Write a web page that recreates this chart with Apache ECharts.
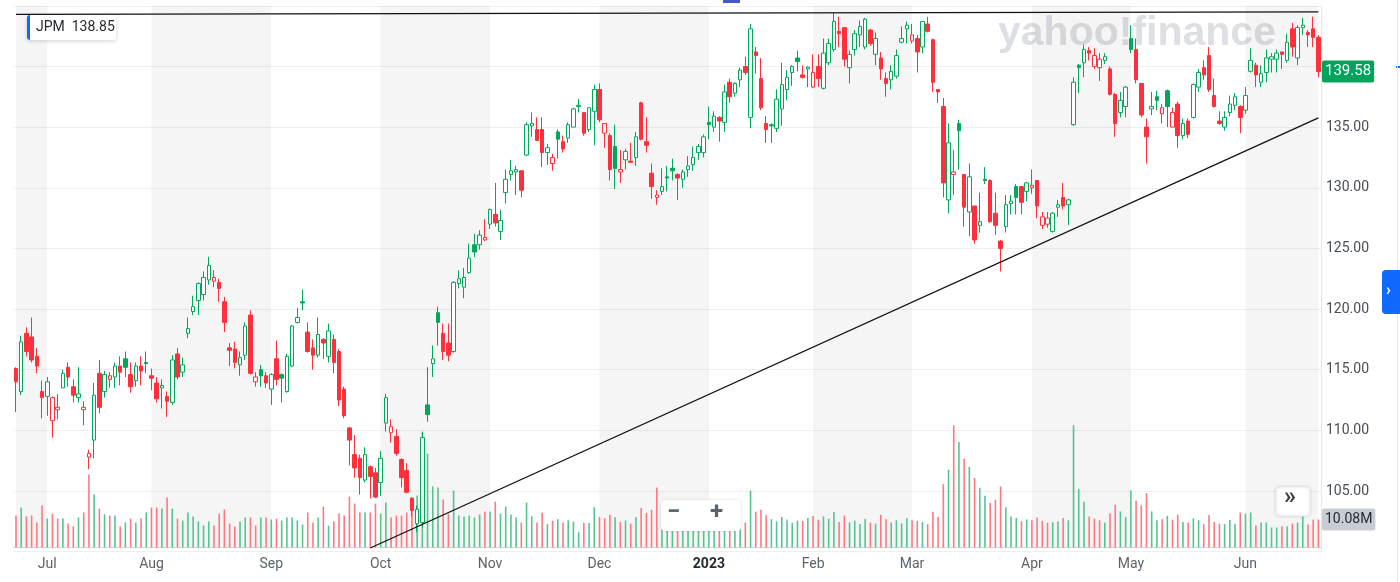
<!DOCTYPE html>
<html>
<head>
<meta charset="utf-8">
<script src="https://cdn.jsdelivr.net/npm/echarts/dist/echarts.min.js"></script>
<style>
html,body{margin:0;padding:0;background:#fff;}
#chart{width:1400px;height:582px;}
</style>
</head>
<body>
<div id="chart"></div>
<script>
// ---------------- DATA ----------------
const dates = [
'2022-06-23','2022-06-24','2022-06-27','2022-06-28','2022-06-29','2022-06-30',
'2022-07-01','2022-07-05','2022-07-06','2022-07-07','2022-07-08','2022-07-11','2022-07-12','2022-07-13','2022-07-14','2022-07-15','2022-07-18','2022-07-19','2022-07-20','2022-07-21','2022-07-22','2022-07-25','2022-07-26','2022-07-27','2022-07-28','2022-07-29',
'2022-08-01','2022-08-02','2022-08-03','2022-08-04','2022-08-05','2022-08-08','2022-08-09','2022-08-10','2022-08-11','2022-08-12','2022-08-15','2022-08-16','2022-08-17','2022-08-18','2022-08-19','2022-08-22','2022-08-23','2022-08-24','2022-08-25','2022-08-26','2022-08-29','2022-08-30','2022-08-31',
'2022-09-01','2022-09-02','2022-09-06','2022-09-07','2022-09-08','2022-09-09','2022-09-12','2022-09-13','2022-09-14','2022-09-15','2022-09-16','2022-09-19','2022-09-20','2022-09-21','2022-09-22','2022-09-23','2022-09-26','2022-09-27','2022-09-28','2022-09-29','2022-09-30',
'2022-10-03','2022-10-04','2022-10-05','2022-10-06','2022-10-07','2022-10-10','2022-10-11','2022-10-12','2022-10-13','2022-10-14','2022-10-17','2022-10-18','2022-10-19','2022-10-20','2022-10-21','2022-10-24','2022-10-25','2022-10-26','2022-10-27','2022-10-28','2022-10-31',
'2022-11-01','2022-11-02','2022-11-03','2022-11-04','2022-11-07','2022-11-08','2022-11-09','2022-11-10','2022-11-11','2022-11-14','2022-11-15','2022-11-16','2022-11-17','2022-11-18','2022-11-21','2022-11-22','2022-11-23','2022-11-25','2022-11-28','2022-11-29','2022-11-30',
'2022-12-01','2022-12-02','2022-12-05','2022-12-06','2022-12-07','2022-12-08','2022-12-09','2022-12-12','2022-12-13','2022-12-14','2022-12-15','2022-12-16','2022-12-19','2022-12-20','2022-12-21','2022-12-22','2022-12-23','2022-12-27','2022-12-28','2022-12-29','2022-12-30',
'2023-01-03','2023-01-04','2023-01-05','2023-01-06','2023-01-09','2023-01-10','2023-01-11','2023-01-12','2023-01-13','2023-01-17','2023-01-18','2023-01-19','2023-01-20','2023-01-23','2023-01-24','2023-01-25','2023-01-26','2023-01-27','2023-01-30','2023-01-31',
'2023-02-01','2023-02-02','2023-02-03','2023-02-06','2023-02-07','2023-02-08','2023-02-09','2023-02-10','2023-02-13','2023-02-14','2023-02-15','2023-02-16','2023-02-17','2023-02-21','2023-02-22','2023-02-23','2023-02-24','2023-02-27','2023-02-28',
'2023-03-01','2023-03-02','2023-03-03','2023-03-06','2023-03-07','2023-03-08','2023-03-09','2023-03-10','2023-03-13','2023-03-14','2023-03-15','2023-03-16','2023-03-17','2023-03-20','2023-03-21','2023-03-22','2023-03-23','2023-03-24','2023-03-27','2023-03-28','2023-03-29','2023-03-30','2023-03-31',
'2023-04-03','2023-04-04','2023-04-05','2023-04-06','2023-04-10','2023-04-11','2023-04-12','2023-04-13','2023-04-14','2023-04-17','2023-04-18','2023-04-19','2023-04-20','2023-04-21','2023-04-24','2023-04-25','2023-04-26','2023-04-27','2023-04-28',
'2023-05-01','2023-05-02','2023-05-03','2023-05-04','2023-05-05','2023-05-08','2023-05-09','2023-05-10','2023-05-11','2023-05-12','2023-05-15','2023-05-16','2023-05-17','2023-05-18','2023-05-19','2023-05-22','2023-05-23','2023-05-24','2023-05-25','2023-05-26','2023-05-30','2023-05-31',
'2023-06-01','2023-06-02','2023-06-05','2023-06-06','2023-06-07','2023-06-08','2023-06-09','2023-06-12','2023-06-13','2023-06-14','2023-06-15','2023-06-16','2023-06-20','2023-06-21','2023-06-22'
];

const opens = [
115.1,113.2,118.0,117.7,116.1,113.2,112.8,110.8,111.7,113.5,
115.2,113.6,112.7,111.7,107.8,109.2,114.7,113.2,114.2,114.4,
115.3,115.9,114.6,114.1,115.3,115.6,114.5,113.9,113.5,112.8,
112.3,116.3,114.8,118.0,119.8,120.7,121.2,122.4,122.3,122.2,
120.6,116.8,116.7,115.4,116.2,119.5,114.0,115.0,114.5,113.4,
115.9,114.6,113.2,115.3,118.9,120.6,118.1,116.8,116.2,117.5,
116.1,117.5,116.5,113.4,110.2,108.0,107.7,105.9,107.0,106.5,
105.7,110.6,109.8,109.5,107.6,106.7,104.4,102.3,102.4,112.1,
115.5,119.7,118.0,117.2,116.5,122.1,121.8,123.0,125.3,125.3,
125.7,127.0,127.8,126.4,129.6,131.1,131.3,131.4,132.7,135.1,
134.8,134.8,132.9,132.0,134.6,133.8,134.1,135.0,136.7,136.2,
134.8,136.3,138.1,134.5,134.3,133.4,131.3,132.3,132.2,132.5,
137.0,133.8,131.2,129.2,129.7,130.9,131.6,131.1,130.7,131.5,
131.9,132.9,132.9,135.4,135.0,135.8,135.4,138.7,137.8,138.9,
140.0,135.8,141.2,139.0,135.3,135.2,134.9,136.5,138.1,139.5,
140.7,139.3,139.8,138.3,140.0,138.2,140.3,141.4,142.9,143.2,
139.9,141.4,142.6,141.6,143.0,141.0,140.7,139.0,138.9,139.2,
142.0,143.1,142.1,142.3,141.6,143.5,142.2,138.1,136.7,129.0,
131.1,135.3,131.1,128.0,128.5,126.9,130.7,130.6,127.9,125.6,
126.8,128.7,130.1,130.1,129.7,130.0,130.6,126.9,127.0,126.4,
128.4,129.2,128.6,135.2,140.1,140.3,141.3,140.0,139.9,140.5,
139.8,137.7,136.2,136.7,142.3,141.4,138.6,135.0,136.5,137.5,
136.1,138.0,135.0,136.9,134.3,135.5,135.8,138.3,139.9,140.9,
137.6,135.5,135.0,136.2,136.8,136.7,136.4,139.6,140.1,138.7,
139.5,140.6,140.6,141.2,140.5,143.1,140.7,143.2,142.8,143.1,
142.4
];

const closes = [
114.0,117.3,116.5,115.8,115.3,112.7,114.0,112.7,111.9,114.7,
114.4,112.9,113.0,111.9,108.1,112.9,111.9,114.6,114.5,115.3,
114.8,115.2,113.6,115.3,114.9,115.5,114.3,112.6,113.7,112.4,
115.8,114.4,115.4,118.4,120.2,122.1,122.6,123.6,122.6,121.7,
118.9,116.6,115.6,116.0,118.6,114.7,114.4,114.5,113.9,114.6,
114.2,114.3,116.1,118.6,119.3,120.5,116.5,116.2,117.9,117.2,
118.2,115.6,112.5,111.2,109.2,106.9,106.1,108.0,106.2,104.5,
107.7,112.7,110.3,108.1,106.1,104.9,103.4,103.5,109.4,111.3,
115.9,118.9,116.5,116.2,122.2,122.5,122.6,124.2,124.7,126.1,
125.9,128.2,127.1,127.3,130.7,131.4,131.5,129.8,135.2,135.3,
133.9,132.9,133.3,132.5,134.0,133.2,135.2,136.5,136.8,134.5,
136.6,138.1,135.6,135.3,131.5,131.6,131.5,133.0,132.1,134.2,
134.0,133.5,130.1,129.4,130.1,130.8,131.4,130.8,131.3,131.8,
132.5,133.4,134.2,135.2,135.9,135.5,137.9,137.5,138.6,139.7,
139.5,143.1,140.9,136.6,134.8,135.1,137.3,138.5,139.1,140.0,
140.4,139.1,139.95,139.5,139.0,141.1,141.9,143.7,142.7,140.6,
141.0,142.7,143.3,143.9,141.9,142.3,139.8,138.6,139.6,140.9,
142.3,143.4,142.6,141.2,143.7,142.9,138.7,137.9,130.4,133.7,
131.3,134.7,128.4,130.9,125.7,127.2,130.6,127.2,126.9,125.0,
128.6,128.9,129.2,128.8,130.4,130.2,128.5,127.6,127.5,127.9,
128.6,128.5,129.0,138.7,139.9,141.4,141.1,140.9,140.6,140.8,
137.7,135.3,137.2,138.3,141.4,138.9,136.0,134.2,136.7,137.2,
136.6,136.7,136.2,134.3,135.3,134.4,138.5,139.5,139.3,138.1,
136.7,135.3,135.8,136.9,137.5,135.8,137.6,140.5,139.3,139.4,
140.7,140.8,141.1,141.0,142.0,141.6,143.2,143.4,142.6,142.4,
139.58
];

const lows = [
111.5,112.9,116.1,115.6,114.7,111.0,111.2,109.4,110.9,113.5,
113.6,112.3,112.3,110.4,106.8,107.7,111.4,112.7,113.5,113.5,
113.7,114.4,113.1,113.6,113.7,114.7,113.3,112.3,111.8,111.1,
112.1,114.2,114.4,117.6,119.5,119.5,120.7,122.0,121.8,120.6,
118.1,115.3,115.1,114.5,115.8,114.6,113.6,113.6,113.5,112.1,
113.7,112.3,113.1,115.2,118.8,119.9,116.4,115.0,116.0,115.9,
115.6,114.7,112.0,111.0,107.1,106.1,104.7,105.7,104.4,104.4,
104.6,109.9,109.0,107.9,105.3,104.8,102.9,101.6,102.0,110.7,
114.4,117.0,115.8,115.7,116.4,121.7,120.9,122.9,124.3,124.9,
125.6,126.6,126.8,125.7,128.7,130.6,129.4,129.2,132.6,134.2,
133.9,131.7,131.9,131.4,132.4,132.9,133.7,135.0,136.2,134.3,
134.6,133.5,135.4,133.3,130.6,129.9,130.4,131.5,132.1,131.8,
133.9,132.9,129.1,128.6,129.4,129.7,130.6,129.0,130.0,130.9,
131.4,132.3,132.5,134.0,134.6,133.8,134.6,137.0,137.5,138.3,
139.3,134.9,139.4,136.4,133.7,133.7,134.6,135.1,137.2,138.4,
139.6,139.0,138.3,138.2,138.3,138.1,140.1,141.2,141.6,140.0,
138.6,140.9,141.6,141.4,141.7,140.1,138.9,137.5,138.1,139.0,
141.9,141.9,141.9,139.5,141.1,142.8,137.9,137.0,129.2,127.9,
129.4,131.5,126.8,126.0,125.4,126.3,130.3,127.1,126.1,123.1,
126.3,127.8,127.8,127.8,128.9,129.5,127.5,126.6,126.7,126.3,
127.6,128.2,126.9,135.1,137.8,139.1,140.5,139.8,138.8,140.2,
137.6,134.2,135.8,135.8,141.1,138.6,135.8,132.0,136.0,136.4,
135.3,135.0,135.0,133.3,134.0,134.1,135.7,137.9,138.9,137.9,
136.6,135.2,134.7,135.9,136.4,134.5,136.1,139.5,138.3,138.3,
138.7,139.5,139.5,139.8,140.3,140.8,140.1,142.6,141.6,141.6,
139.1
];

const highs = [
115.2,117.8,118.5,119.3,116.8,114.1,114.4,112.8,113.0,115.0,
115.6,114.2,115.2,112.4,108.4,113.9,115.8,114.9,114.8,115.6,
116.1,116.5,115.6,115.6,116.1,116.5,115.1,114.4,114.2,113.2,
116.2,116.8,116.0,119.3,121.1,122.2,123.1,124.3,123.2,122.5,
121.0,117.2,117.3,116.5,118.9,119.9,114.8,115.4,114.8,114.7,
117.4,114.7,116.3,118.7,120.1,121.6,118.9,117.5,119.3,117.6,
118.8,117.9,116.7,113.6,110.3,109.6,108.0,108.6,107.1,106.9,
108.3,113.0,110.9,110.1,107.7,107.3,104.5,103.8,109.9,115.2,
117.0,120.2,118.8,118.8,122.3,123.2,123.4,125.4,126.2,126.5,
127.4,128.3,130.4,128.2,131.5,132.3,131.8,131.4,135.4,136.2,
135.8,135.8,133.6,132.8,134.8,134.3,135.4,136.6,137.3,136.2,
136.6,138.5,138.6,135.3,134.5,135.2,133.1,133.2,133.7,134.6,
137.1,135.8,132.0,129.8,131.6,131.8,132.4,131.2,131.5,132.6,
133.4,133.6,134.4,136.7,136.3,135.9,138.5,139.0,138.7,139.9,
140.8,143.5,141.6,140.7,135.9,135.3,138.1,140.3,139.7,140.1,
141.3,140.1,140.0,141.0,141.0,142.3,142.3,144.4,144.1,143.2,
141.3,143.0,143.8,144.0,143.1,142.8,141.2,139.5,140.1,141.4,
143.3,143.7,143.5,142.6,143.7,144.1,142.3,138.1,137.4,135.3,
133.1,135.6,131.1,132.0,128.5,129.6,131.7,130.7,129.6,125.7,
129.4,129.4,130.3,130.1,130.5,131.5,130.6,128.0,128.0,128.0,
129.0,130.4,129.1,139.1,140.2,141.8,141.6,141.5,141.1,141.1,
140.0,137.8,137.9,138.4,143.4,142.3,138.6,135.7,137.9,138.0,
136.9,138.1,136.6,137.1,135.7,135.7,138.6,139.8,140.5,141.6,
139.0,136.3,136.3,137.6,137.8,136.8,138.3,141.5,140.3,140.1,
141.4,141.1,141.4,141.2,142.7,143.6,143.4,144.0,143.0,144.1,
142.6
];

// volume in millions of shares
const volumes = [
11.5,14.4,11.2,11.5,9.0,15.1,10.4,12.2,10.4,10.4,
8.6,7.6,10.8,12.6,26.3,19.1,14.0,11.9,11.5,11.5,
7.6,9.0,10.4,9.0,10.4,12.6,14.4,14.4,14.0,18.0,
14.0,10.4,9.7,12.6,11.2,9.4,7.9,9.4,7.9,12.2,
13.7,8.6,7.6,9.4,10.8,10.8,7.9,10.8,10.8,10.1,
10.4,9.7,10.8,10.8,9.7,8.3,12.6,9.0,10.8,14.7,
7.9,9.4,12.2,11.5,18.3,15.8,12.6,12.6,12.6,15.8,
12.2,16.2,10.8,11.5,11.5,12.6,15.8,18.7,41.4,33.8,
22.0,21.6,17.3,12.2,20.5,11.5,11.2,11.5,10.8,11.9,
13.0,13.0,16.5,12.2,14.7,11.9,10.8,9.0,16.2,11.2,
9.0,12.5,8.4,9.6,10.2,9.0,9.8,9.3,5.5,8.9,
8.8,14.5,11.0,10.5,11.8,10.9,9.2,9.7,8.6,11.0,
14.2,12.4,13.6,21.6,12.2,9.8,8.4,9.5,6.6,6.8,
6.2,7.4,7.0,10.4,11.5,10.0,11.8,10.7,9.3,8.6,
9.0,20.5,12.9,13.6,11.6,10.2,9.4,11.0,10.1,8.9,
9.7,9.5,10.6,11.3,10.0,11.2,10.4,12.8,9.2,11.5,
9.0,9.7,8.5,10.3,9.0,8.6,11.8,10.2,9.0,9.8,
8.7,10.5,9.8,9.6,9.2,8.4,12.9,11.0,22.8,28.0,
44.0,38.0,32.0,29.0,25.0,21.5,18.6,16.0,17.2,22.0,
14.5,11.2,10.6,9.5,10.1,9.8,10.8,9.6,8.9,9.1,
9.4,10.6,9.8,44.0,21.0,16.5,11.2,10.4,9.8,8.9,
12.3,15.4,13.0,11.0,20.5,16.8,15.2,19.6,13.0,9.8,
10.2,11.4,10.0,11.8,9.2,9.0,10.5,9.8,8.4,11.6,
9.2,8.6,8.4,9.9,8.5,12.6,12.2,12.6,7.9,9.0,
9.0,7.2,7.2,7.6,7.6,8.6,9.0,11.5,8.3,10.1,
10.08
];

// month tick labels (one per month start after the first partial month)
const xTickLabels = ['Jul','Aug','Sep','Oct','Nov','Dec','2023','Feb','Mar','Apr','May','Jun'];
// drawn annotation lines: [date, price]
const supportLine = [['2022-09-29', 100.3], ['2023-06-22', 135.76]];
const resistanceLine = [['2022-06-23', 144.3], ['2023-06-22', 144.5]];
const ticker = 'JPM';
const headerPrice = '138.85';
const yMin = 100, yMax = 145, yStep = 5;
const bandFloor = 100.33;

// ---------------- BUILD ----------------
const GREEN = '#00a85a', RED = '#ff2f3b';
const GREEN_V = '#55c491', RED_V = '#ff7880';
const HOLLOW = '#ffffff';

const candleData = dates.map((d, i) => {
  const o = opens[i], c = closes[i];
  const prev = i === 0 ? o : closes[i - 1];
  const up = c >= prev;
  const tone = up ? GREEN : RED;
  const fill = c > o ? HOLLOW : tone;
  return {
    value: [o, c, lows[i], highs[i]],
    itemStyle: { color: fill, color0: fill, borderColor: tone, borderColor0: tone, borderWidth: 1 }
  };
});
const volData = dates.map((d, i) => {
  const prev = i === 0 ? opens[i] : closes[i - 1];
  return { value: volumes[i], itemStyle: { color: closes[i] >= prev ? GREEN_V : RED_V } };
});

const monthStarts = [];
dates.forEach((d, i) => { if (i === 0 || d.slice(0, 7) !== dates[i - 1].slice(0, 7)) monthStarts.push(i); });
const labelMap = {};
monthStarts.slice(1).forEach((idx, k) => { labelMap[idx] = xTickLabels[k]; });
const bandAreas = [];
for (let m = 0; m < monthStarts.length; m += 2) {
  const s = monthStarts[m];
  const e = m + 1 < monthStarts.length ? monthStarts[m + 1] : dates.length - 1;
  bandAreas.push([{ xAxis: dates[s], yAxis: bandFloor }, { xAxis: dates[e], yAxis: yMax }]);
}
const lastClose = closes[closes.length - 1];
const lastVol = volumes[volumes.length - 1];

const FONT = 'Roboto, "Liberation Sans", sans-serif';
const chart = echarts.init(document.getElementById('chart'));
const gridL = 13.4, gridR = 79;
const CLEAR = 'rgba(0,0,0,0)';

chart.setOption({
  animation: false,
  backgroundColor: '#ffffff',
  textStyle: { fontFamily: FONT },
  grid: [
    { left: gridL, right: gridR, top: 5.8, height: 545.85 },
    { left: gridL, right: gridR, top: 397.5, height: 150 }
  ],
  xAxis: [
    { type: 'category', gridIndex: 0, data: dates, show: false },
    {
      type: 'category', gridIndex: 1, data: dates,
      axisLine: { lineStyle: { color: '#d3d7dc', width: 1 } },
      axisTick: { alignWithLabel: true, length: 5, interval: (i) => labelMap[i] !== undefined, lineStyle: { color: '#c9cdd2' } },
      axisLabel: {
        interval: (i) => labelMap[i] !== undefined,
        formatter: (v, i) => { const t = labelMap[i]; if (!t) return ''; return t === '2023' ? '{y|2023}' : t; },
        color: '#5b636a', fontSize: 14, margin: 10, fontFamily: FONT,
        rich: { y: { fontWeight: 'bold', color: '#232a31', fontSize: 14, fontFamily: FONT } }
      },
      splitLine: { show: false }
    }
  ],
  yAxis: [
    {
      type: 'value', gridIndex: 0, position: 'right', min: yMin, max: yMax, interval: yStep,
      axisLine: { show: true, lineStyle: { color: '#e3e6ea' } },
      axisTick: { show: false },
      splitLine: { show: true, lineStyle: { color: '#eeeff1', width: 1 } },
      axisLabel: {
        margin: 5, color: '#464e56', fontSize: 14, fontFamily: FONT,
        formatter: (v) => (v >= 105 && v <= 135) ? v.toFixed(2) : ''
      }
    },
    { type: 'value', gridIndex: 1, min: 0, max: 54, show: false, splitLine: { show: false } }
  ],
  series: [
    {
      name: 'bands', type: 'line', xAxisIndex: 0, yAxisIndex: 0, data: [], z: 0, silent: true,
      markArea: { silent: true, itemStyle: { color: 'rgba(0,0,0,0.04)' }, data: bandAreas }
    },
    {
      name: 'volume', type: 'bar', xAxisIndex: 1, yAxisIndex: 1, data: volData, barWidth: 1.6, z: 3, silent: true,
      markLine: {
        silent: true, symbol: ['none', 'none'], z: 20,
        lineStyle: { color: CLEAR, width: 1, type: 'solid' },
        emphasis: { disabled: true },
        data: [{ yAxis: lastVol }],
        label: {
          show: true, position: 'end', distance: 1,
          formatter: lastVol.toFixed(2) + 'M',
          backgroundColor: '#c9cdd3', color: '#232a31', fontSize: 14, fontFamily: FONT,
          padding: [3, 3, 3, 3], lineHeight: 16, borderRadius: 2
        }
      }
    },
    {
      name: ticker, type: 'candlestick', xAxisIndex: 0, yAxisIndex: 0, data: candleData,
      barWidth: 4, z: 5,
      markLine: {
        silent: true, symbol: ['none', 'none'], z: 20,
        lineStyle: { color: CLEAR, width: 1, type: 'solid' },
        emphasis: { disabled: true },
        data: [{ yAxis: lastClose }],
        label: {
          show: true, position: 'end', distance: 1,
          formatter: lastClose.toFixed(2),
          backgroundColor: '#00a35c', color: '#ffffff', fontSize: 15, fontFamily: FONT,
          padding: [3, 3, 3, 3], lineHeight: 16, borderRadius: 2
        }
      }
    },
    {
      name: 'support', type: 'line', xAxisIndex: 0, yAxisIndex: 0, data: supportLine,
      symbol: 'none', z: 6, silent: true, lineStyle: { color: '#111111', width: 1.3 }
    },
    {
      name: 'resistance', type: 'line', xAxisIndex: 0, yAxisIndex: 0, data: resistanceLine,
      symbol: 'none', z: 6, silent: true, lineStyle: { color: '#111111', width: 1.3 }
    }
  ],
  graphic: [
    { type: 'text', z: 1, left: 998, top: 13, silent: true,
      style: { text: 'yahoo!finance', fill: '#dcdfe3', font: 'bold 41px "Liberation Sans", sans-serif' } },
    { type: 'rect', z: 100, shape: { x: 723, y: 0, width: 17, height: 3 }, style: { fill: '#4557c9' } },
    { type: 'rect', z: 100, shape: { x: 1396, y: 66, width: 4, height: 2 }, style: { fill: '#0f69ff' } },
    { type: 'line', z: 100, shape: { x1: 1397.5, y1: 0, x2: 1397.5, y2: 582 }, style: { stroke: '#e6e8eb', lineWidth: 1 } },
    // ticker box
    { type: 'rect', z: 100, shape: { x: 27, y: 15, width: 89, height: 25, r: 3 },
      style: { fill: '#ffffff', shadowBlur: 4, shadowColor: 'rgba(0,0,0,0.18)', shadowOffsetY: 1 } },
    { type: 'rect', z: 101, shape: { x: 27, y: 15, width: 3, height: 25, r: [3, 0, 0, 3] }, style: { fill: '#0f69ff' } },
    { type: 'text', z: 102, left: 36, top: 20,
      style: { text: ticker + '  ' + headerPrice, fill: '#232a31', font: '14px ' + FONT } },
    // right blue button
    { type: 'rect', z: 100, shape: { x: 1382, y: 270, width: 18, height: 44, r: [4, 0, 0, 4] }, style: { fill: '#0f69ff' } },
    { type: 'text', z: 101, left: 1386, top: 283, style: { text: '›', fill: '#ffffff', font: 'bold 16px ' + FONT } },
    // >> button
    { type: 'rect', z: 100, shape: { x: 1276, y: 487, width: 34, height: 29, r: 4 },
      style: { fill: '#ffffff', stroke: '#eceef0', lineWidth: 1, shadowBlur: 3, shadowColor: 'rgba(0,0,0,0.15)' } },
    { type: 'text', z: 101, left: 1284, top: 486, style: { text: '»', fill: '#3b4249', font: 'bold 24px ' + FONT } },
    // zoom control
    { type: 'rect', z: 100, shape: { x: 661, y: 500, width: 80, height: 31, r: 4 },
      style: { fill: '#ffffff', shadowBlur: 3, shadowColor: 'rgba(0,0,0,0.15)' } },
    { type: 'text', z: 101, left: 667, top: 501, style: { text: '−', fill: '#5b636a', font: 'bold 24px ' + FONT } },
    { type: 'text', z: 101, left: 710, top: 501, style: { text: '+', fill: '#5b636a', font: 'bold 24px ' + FONT } }
  ]
});
</script>
</body>
</html>
